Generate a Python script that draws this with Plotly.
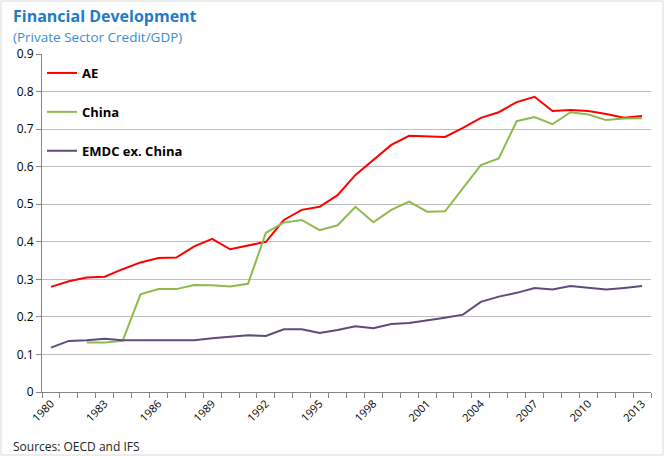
import plotly.graph_objects as go

years = list(range(1980, 2014))
ae = [0.280, 0.295, 0.305, 0.307, 0.327, 0.345, 0.357, 0.358, 0.388, 0.408,
      0.380, 0.390, 0.400, 0.458, 0.485, 0.493, 0.524, 0.578, 0.618, 0.658,
      0.682, 0.680, 0.679, 0.703, 0.730, 0.745, 0.772, 0.786, 0.748, 0.751,
      0.748, 0.740, 0.730, 0.735]
china = [None, None, 0.132, 0.132, 0.136, 0.260, 0.274, 0.274, 0.285, 0.284,
         0.281, 0.288, 0.424, 0.451, 0.458, 0.431, 0.444, 0.493, 0.452, 0.485,
         0.507, 0.480, 0.481, 0.542, 0.604, 0.622, 0.721, 0.732, 0.713, 0.745,
         0.739, 0.724, 0.728, 0.729]
emdc = [0.118, 0.136, 0.138, 0.142, 0.138, 0.139, 0.138, 0.138, 0.138, 0.143,
        0.148, 0.151, 0.149, 0.167, 0.167, 0.157, 0.165, 0.175, 0.170, 0.181,
        0.184, 0.192, 0.198, 0.206, 0.240, 0.254, 0.264, 0.277, 0.273, 0.282,
        0.277, 0.273, 0.277, 0.282]
tick_years = list(range(1980, 2014, 3))
y_ticks = [0, 0.1, 0.2, 0.3, 0.4, 0.5, 0.6, 0.7, 0.8, 0.9]
y_labels = ["0", "0.1", "0.2", "0.3", "0.4", "0.5", "0.6", "0.7", "0.8", "0.9"]

FONT = "Open Sans, Noto Sans, sans-serif"

fig = go.Figure()
series = [("AE", ae, "#FF0000"), ("China", china, "#8CBB4C"), ("EMDC ex. China", emdc, "#604A7B")]
for name, vals, col in series:
    fig.add_trace(go.Scatter(x=years, y=vals, name=name, mode="lines",
                             line=dict(color=col, width=2), legendgroup=name,
                             connectgaps=False))

L, R, T, B = 42, 13, 54, 64
W, H = 664, 456
pw = W - L - R
ph = H - T - B
def px(xp):
    return (xp - L) / pw
def py(yp):
    return (H - B - yp) / ph

fig.update_layout(
    width=W, height=H,
    margin=dict(l=L, r=R, t=T, b=B, autoexpand=False),
    paper_bgcolor="white", plot_bgcolor="white",
    font=dict(family=FONT, size=12, color="#000000"),
    showlegend=True,
    legend=dict(x=px(42), y=py(58), xanchor="left", yanchor="top",
                bgcolor="rgba(0,0,0,0)", tracegroupgap=19,
                font=dict(family=FONT, size=13, color="#000000", weight="bold"),
                itemwidth=30),
)
fig.add_annotation(text="<b>Financial Development</b>", x=px(11), y=py(16), xref="paper", yref="paper",
                   xanchor="left", yanchor="middle", showarrow=False,
                   font=dict(family=FONT, size=16, color="#1F7BC4"))
fig.add_annotation(text="(Private Sector Credit/GDP)", x=px(11), y=py(37), xref="paper", yref="paper",
                   xanchor="left", yanchor="middle", showarrow=False,
                   font=dict(family=FONT, size=13.5, color="#3A8CD2"))
fig.add_annotation(text="Sources: OECD and IFS", x=px(11), y=py(446), xref="paper", yref="paper",
                   xanchor="left", yanchor="middle", showarrow=False,
                   font=dict(family=FONT, size=12, color="#222222"))
fig.add_shape(type="rect", xref="paper", yref="paper", x0=px(1), x1=px(663), y0=py(455), y1=py(1),
              line=dict(color="#D9D9D9", width=1), fillcolor="rgba(0,0,0,0)", layer="below")

fig.update_xaxes(
    range=[1979.5, 2013.5], tickmode="array", tickvals=tick_years,
    ticktext=[str(y) for y in tick_years], tickangle=-45, automargin=False,
    showgrid=False, zeroline=False, showline=True, linecolor="#868686", linewidth=1,
    ticks="", tickfont=dict(family=FONT, size=11, color="#000000"),
    minor=dict(ticks="outside", tick0=1979.5, dtick=1, ticklen=5, tickcolor="#868686", showgrid=False),
)
fig.update_yaxes(
    range=[0, 0.9], tickmode="array", tickvals=y_ticks, ticktext=y_labels, automargin=False,
    showgrid=True, gridcolor="#BFBFBF", gridwidth=1, zeroline=False,
    showline=True, linecolor="#868686", linewidth=1,
    ticks="outside", ticklen=5, tickcolor="#868686",
    tickfont=dict(family=FONT, size=12, color="#000000"),
)

fig.write_html("out.html", config={"displayModeBar": False},
               post_script="document.body.style.margin='0px';document.body.style.padding='0px';document.body.style.overflow='hidden';")
